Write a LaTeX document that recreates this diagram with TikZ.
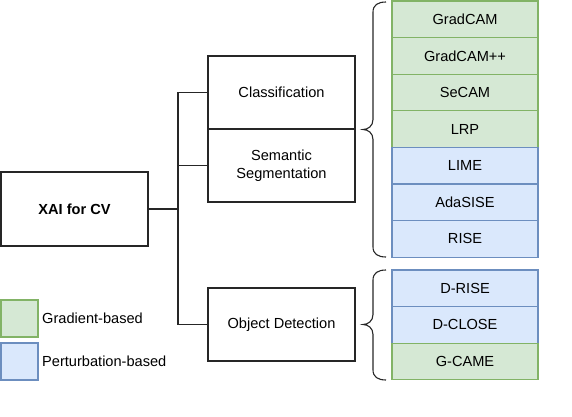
\documentclass[tikz,border=0pt]{standalone}
\usepackage{fontspec}
\setmainfont{Liberation Sans}
\begin{document}
\begin{tikzpicture}[x=1pt,y=-1pt,
  every node/.style={font=\fontsize{14.6}{18}\selectfont, inner sep=0pt, align=center},
  catbox/.style={draw=black!85, line width=1.1pt, fill=white, minimum width=147pt, minimum height=73pt},
  grad/.style={draw={rgb,255:red,130;green,179;blue,102}, fill={rgb,255:red,213;green,232;blue,212}, line width=1.1pt, minimum width=146pt, minimum height=36.6pt},
  pert/.style={draw={rgb,255:red,108;green,142;blue,191}, fill={rgb,255:red,218;green,232;blue,252}, line width=1.1pt, minimum width=146pt, minimum height=36.6pt},
  lgrad/.style={grad, minimum width=37pt, minimum height=37pt},
  lpert/.style={pert, minimum width=37pt, minimum height=37pt},
  conn/.style={draw=black!85, line width=1.1pt},
  bracestyle/.style={draw=black!85, line width=1.1pt}
]
\useasboundingbox (0,0) rectangle (572,416);
% main nodes
\node[catbox, minimum height=74pt, font=\fontsize{14.6}{18}\selectfont\bfseries] (xai) at (74.5,209) {XAI for CV};
\node[catbox] (cls) at (281.5,92.5) {Classification};
\node[catbox] (seg) at (281.5,165.5) {Semantic\\Segmentation};
\node[catbox] (obj) at (281.5,324.5) {Object Detection};
% trunk
\coordinate (tj) at (178,209);
\coordinate (tc) at (178,92.5);
\coordinate (ts) at (178,165.5);
\coordinate (to) at (178,324.5);
\draw[conn] (xai.east) -- (tj);
\draw[conn] (cls.west) -- (tc) -- (to) -- (obj.west);
\draw[conn] (ts) -- (seg.west);
% methods group 1
\node[grad] (m1) at (465,19.3) {GradCAM};
\node[grad] (m2) at (465,55.9) {GradCAM++};
\node[grad] (m3) at (465,92.5) {SeCAM};
\node[grad] (m4) at (465,129.1) {LRP};
\node[pert] (m5) at (465,165.7) {LIME};
\node[pert] (m6) at (465,202.3) {AdaSISE};
\node[pert] (m7) at (465,238.9) {RISE};
% methods group 2
\node[pert] (d1) at (465,288.3) {D-RISE};
\node[pert] (d2) at (465,324.9) {D-CLOSE};
\node[grad] (d3) at (465,361.5) {G-CAME};
% braces
\coordinate (b1t) at (386,2);
\coordinate (b1m) at (363,129.5);
\coordinate (b1b) at (386,257);
\draw[bracestyle] (b1t) .. controls (378,2) and (373,5) .. (373,12) -- (373,119.5)
  .. controls (373,126) and (368,129.5) .. (b1m)
  .. controls (368,129.5) and (373,133) .. (373,139.5) -- (373,247)
  .. controls (373,254) and (378,257) .. (b1b);
\coordinate (b2t) at (386,270);
\coordinate (b2m) at (363,324.5);
\coordinate (b2b) at (386,380);
\draw[bracestyle] (b2t) .. controls (378,270) and (373,273) .. (373,280) -- (373,314.5)
  .. controls (373,321) and (368,324.5) .. (b2m)
  .. controls (368,324.5) and (373,328) .. (373,334.5) -- (373,370)
  .. controls (373,377) and (378,380) .. (b2b);
% legend
\node[lgrad] (lg) at (19.5,318.5) {};
\node[lpert] (lp) at (19.5,361.5) {};
\node[anchor=west] (lgt) at (42,318.5) {Gradient-based};
\node[anchor=west] (lpt) at (42,361.5) {Perturbation-based};
\end{tikzpicture}
\end{document}
